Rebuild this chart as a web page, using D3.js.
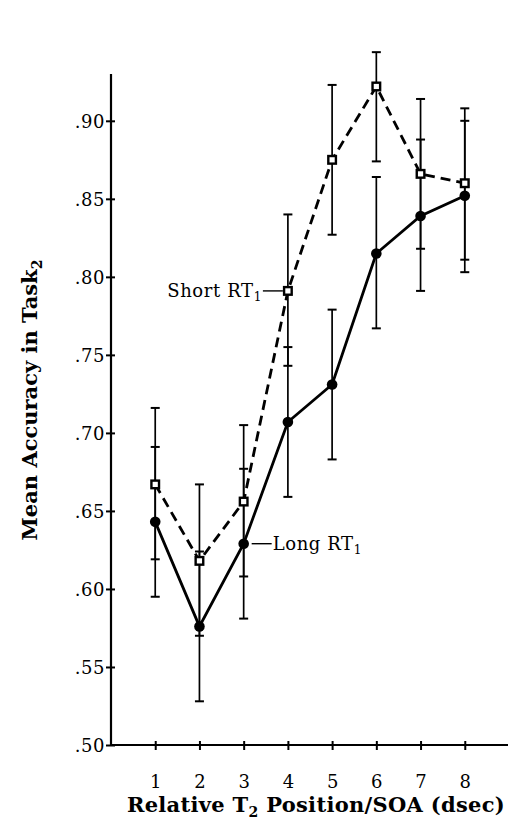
<!DOCTYPE html>
<html>
<head>
<meta charset="utf-8">
<script src="https://cdn.jsdelivr.net/npm/d3@7"></script>
<style>
  html, body { margin: 0; padding: 0; background: #fff; }
  svg { display: block; }
  text { font-family: "DejaVu Serif", "Liberation Serif", serif; fill: #000; }
</style>
</head>
<body>
<svg id="chart" width="508" height="820"></svg>
<script>
// Relative T2 position / SOA (dsec)
const positions = [1, 2, 3, 4, 5, 6, 7, 8];

// Long RT1 condition: mean accuracy and error-bar limits
const longMean = [0.643, 0.576, 0.629, 0.707, 0.731, 0.815, 0.839, 0.852];
const longLow  = [0.595, 0.528, 0.581, 0.659, 0.683, 0.767, 0.791, 0.803];
const longHigh = [0.691, 0.624, 0.677, 0.755, 0.779, 0.864, 0.888, 0.900];

// Short RT1 condition: mean accuracy and error-bar limits
const shortMean = [0.667, 0.618, 0.656, 0.791, 0.875, 0.922, 0.866, 0.860];
const shortLow  = [0.619, 0.570, 0.608, 0.743, 0.827, 0.874, 0.818, 0.811];
const shortHigh = [0.716, 0.667, 0.705, 0.840, 0.923, 0.944, 0.914, 0.908];

const yTicks = [0.50, 0.55, 0.60, 0.65, 0.70, 0.75, 0.80, 0.85, 0.90];
const yTickLabels = [".50", ".55", ".60", ".65", ".70", ".75", ".80", ".85", ".90"];
const xTickLabels = ["1", "2", "3", "4", "5", "6", "7", "8"];

const svg = d3.select("#chart");

const x = d3.scaleLinear().domain([0, 9]).range([111, 509]);
const y = d3.scaleLinear().domain([0.5, 0.93]).range([745, 74]);

// ---- axes ----
const yAxis = d3.axisLeft(y)
  .tickValues(yTicks)
  .tickFormat((d, i) => yTickLabels[i])
  .tickSizeInner(5).tickSizeOuter(0).tickPadding(2);

const gy = svg.append("g").attr("transform", `translate(${x(0)},0)`).call(yAxis);
gy.select(".domain").remove();
gy.selectAll(".tick line").attr("x1", 4).attr("x2", -5).attr("stroke", "#000").attr("stroke-width", 2);
gy.selectAll(".tick text")
  .attr("x", -6)
  .attr("dy", "0.36em")
  .style("font-size", "18px")
  .style("letter-spacing", "0.5px")
  .style("font-family", "DejaVu Serif, serif");

const xAxis = d3.axisBottom(x)
  .tickValues(positions)
  .tickFormat((d, i) => xTickLabels[i])
  .tickSizeInner(5).tickSizeOuter(0).tickPadding(25);

const gx = svg.append("g").attr("transform", `translate(0,${y(0.5)})`).call(xAxis);
gx.select(".domain").remove();
gx.selectAll(".tick line").attr("y1", -4).attr("y2", 5).attr("stroke", "#000").attr("stroke-width", 2);
gx.selectAll(".tick text")
  .style("font-size", "18px")
  .style("font-family", "DejaVu Serif, serif");

// axis lines
svg.append("line")
  .attr("x1", x(0)).attr("x2", x(0))
  .attr("y1", y(0.93)).attr("y2", y(0.5))
  .attr("stroke", "#000").attr("stroke-width", 2.2);
svg.append("line")
  .attr("x1", x(0)).attr("x2", x(9))
  .attr("y1", y(0.5)).attr("y2", y(0.5))
  .attr("stroke", "#000").attr("stroke-width", 2.2);

// ---- error bars ----
function errorBars(low, high, cls) {
  const g = svg.append("g").attr("class", cls);
  const rows = positions.map((p, i) => ({ p, lo: low[i], hi: high[i] }));
  g.selectAll("line.stem").data(rows).join("line")
    .attr("class", "stem")
    .attr("x1", d => x(d.p)).attr("x2", d => x(d.p))
    .attr("y1", d => y(d.lo)).attr("y2", d => y(d.hi))
    .attr("stroke", "#000").attr("stroke-width", 1.7);
  ["lo", "hi"].forEach(k => {
    g.selectAll("line.cap-" + k).data(rows).join("line")
      .attr("class", "cap-" + k)
      .attr("x1", d => x(d.p) - 4.5).attr("x2", d => x(d.p) + 4.5)
      .attr("y1", d => y(d[k])).attr("y2", d => y(d[k]))
      .attr("stroke", "#000").attr("stroke-width", 2);
  });
}
errorBars(longLow, longHigh, "err-long");
errorBars(shortLow, shortHigh, "err-short");

// ---- lines ----
const line = d3.line().x(d => x(d[0])).y(d => y(d[1]));

svg.append("path")
  .datum(positions.map((p, i) => [p, shortMean[i]]))
  .attr("d", line)
  .attr("fill", "none").attr("stroke", "#000")
  .attr("stroke-width", 2.8)
  .attr("stroke-dasharray", "10,6");

svg.append("path")
  .datum(positions.map((p, i) => [p, longMean[i]]))
  .attr("d", line)
  .attr("fill", "none").attr("stroke", "#000")
  .attr("stroke-width", 2.8);

// ---- markers ----
svg.append("g").selectAll("circle")
  .data(positions.map((p, i) => [p, longMean[i]]))
  .join("circle")
  .attr("cx", d => x(d[0])).attr("cy", d => y(d[1]))
  .attr("r", 5.3).attr("fill", "#000");

svg.append("g").selectAll("rect")
  .data(positions.map((p, i) => [p, shortMean[i]]))
  .join("rect")
  .attr("x", d => x(d[0]) - 3.8).attr("y", d => y(d[1]) - 3.8)
  .attr("width", 7.6).attr("height", 7.6)
  .attr("fill", "#fff").attr("stroke", "#000").attr("stroke-width", 2.4);

// ---- series labels ----
function subLabel(sel, main, sub) {
  sel.append("tspan").text(main);
  sel.append("tspan").attr("dy", 4).style("font-size", "12px").text(sub);
}

const sx = x(positions[3]), sy = y(shortMean[3]);
svg.append("line")
  .attr("x1", sx - 25).attr("x2", sx - 5)
  .attr("y1", sy).attr("y2", sy)
  .attr("stroke", "#000").attr("stroke-width", 1.4);
const shortText = svg.append("text")
  .attr("x", sx - 26).attr("y", sy + 6)
  .attr("text-anchor", "end")
  .style("font-size", "18px")
  .style("letter-spacing", "0.6px");
subLabel(shortText, "Short RT", "1");

const lx = x(positions[2]), ly = y(longMean[2]);
svg.append("line")
  .attr("x1", lx + 8).attr("x2", lx + 28)
  .attr("y1", ly).attr("y2", ly)
  .attr("stroke", "#000").attr("stroke-width", 1.4);
const longText = svg.append("text")
  .attr("x", lx + 29).attr("y", ly + 6)
  .style("font-size", "18px")
  .style("letter-spacing", "0.6px");
subLabel(longText, "Long RT", "1");

// ---- axis titles ----
const xTitle = svg.append("text")
  .attr("x", 316).attr("y", 812)
  .attr("text-anchor", "middle")
  .style("font-size", "21px").style("font-weight", "bold")
  .style("letter-spacing", "0.3px");
xTitle.append("tspan").text("Relative T");
xTitle.append("tspan").attr("dy", 5).style("font-size", "14px").text("2");
xTitle.append("tspan").attr("dy", -5).text(" Position/SOA (dsec)");

const yTitle = svg.append("text")
  .attr("transform", "translate(37,400) rotate(-90)")
  .attr("text-anchor", "middle")
  .style("font-size", "21px").style("font-weight", "bold");
yTitle.append("tspan").text("Mean Accuracy in Task");
yTitle.append("tspan").attr("dy", 5).style("font-size", "14px").text("2");
</script>
</body>
</html>
